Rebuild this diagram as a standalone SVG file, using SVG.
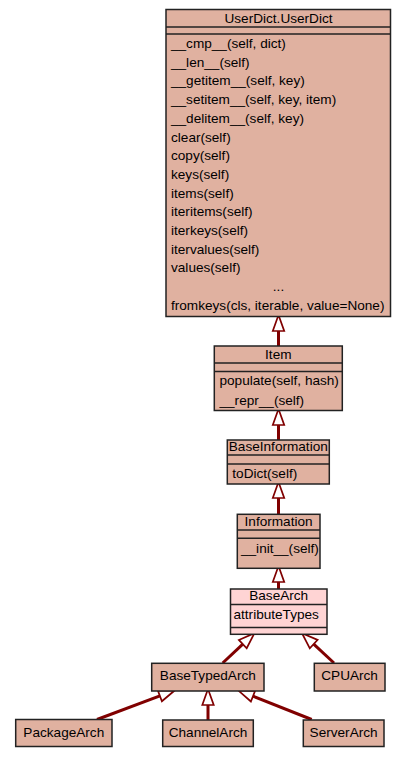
<svg xmlns="http://www.w3.org/2000/svg" width="407" height="757" viewBox="0 0 407 757">
<style>
.box{fill:#e0b1a0;stroke:#222;stroke-width:1.5}
.pink{fill:#ffd4d4;stroke:#222;stroke-width:1.5}
.sep{stroke:#222;stroke-width:1.5}
text{font-family:"Liberation Sans",Arial,sans-serif;font-size:13.6px;fill:#000}
.c{text-anchor:middle}
.e{fill:none;stroke:#800000;stroke-width:3}
</style>
<defs>
<marker id="inh" markerUnits="userSpaceOnUse" markerWidth="20" markerHeight="16" viewBox="-1 -7 17 14" refX="0" refY="0" orient="auto">
<path d="M0,-5 L14,0 L0,5 Z" fill="#fff" stroke="#800000" stroke-width="1.5"/>
</marker>
</defs>
<rect width="407" height="757" fill="#fff"/>
<g id="connectors">
<path class="e" d="M278.5,346 L278.5,331" marker-end="url(#inh)"/>
<path class="e" d="M278.5,440 L278.5,425" marker-end="url(#inh)"/>
<path class="e" d="M278.5,514 L278.5,498" marker-end="url(#inh)"/>
<path class="e" d="M278.5,589 L278.5,582" marker-end="url(#inh)"/>
<path class="e" d="M222.7,663 L242.8,644.1" marker-end="url(#inh)"/>
<path class="e" d="M334,663 L313.7,644.1" marker-end="url(#inh)"/>
<path class="e" d="M97,719.5 L159.9,695.9" marker-end="url(#inh)"/>
<path class="e" d="M208,720 L208,705" marker-end="url(#inh)"/>
<path class="e" d="M311.7,719.5 L253,696.2" marker-end="url(#inh)"/>
</g>
<g id="UserDict">
<rect class="box" x="166" y="9.5" width="224.5" height="307"/>
<line class="sep" x1="166" y1="27" x2="390.5" y2="27"/>
<line class="sep" x1="166" y1="34" x2="390.5" y2="34"/>
<text class="c" x="278.5" y="23">UserDict.UserDict</text>
<text x="171" y="48">__cmp__(self, dict)</text>
<text x="171" y="66.7">__len__(self)</text>
<text x="171" y="85.4">__getitem__(self, key)</text>
<text x="171" y="104.1">__setitem__(self, key, item)</text>
<text x="171" y="122.8">__delitem__(self, key)</text>
<text x="171" y="141.5">clear(self)</text>
<text x="171" y="160.2">copy(self)</text>
<text x="171" y="178.9">keys(self)</text>
<text x="171" y="197.6">items(self)</text>
<text x="171" y="216.3">iteritems(self)</text>
<text x="171" y="235">iterkeys(self)</text>
<text x="171" y="253.7">itervalues(self)</text>
<text x="171" y="272.4">values(self)</text>
<text class="c" x="278.5" y="290.5">...</text>
<text x="171" y="309.8">fromkeys(cls, iterable, value=None)</text>
</g>
<g id="Item">
<rect class="box" x="214.3" y="346" width="128" height="64.5"/>
<line class="sep" x1="214.3" y1="363" x2="342.3" y2="363"/>
<line class="sep" x1="214.3" y1="371.5" x2="342.3" y2="371.5"/>
<text class="c" x="278.3" y="358.5">Item</text>
<text x="219.5" y="384.5">populate(self, hash)</text>
<text x="219.5" y="404.5">__repr__(self)</text>
</g>
<g id="BaseInformation">
<rect class="box" x="227.3" y="440" width="102" height="44"/>
<line class="sep" x1="227.3" y1="455" x2="329.3" y2="455"/>
<line class="sep" x1="227.3" y1="464" x2="329.3" y2="464"/>
<text class="c" x="278.3" y="451.3">BaseInformation</text>
<text x="232.3" y="477.5">toDict(self)</text>
</g>
<g id="Information">
<rect class="box" x="237.3" y="514.3" width="82.7" height="54"/>
<line class="sep" x1="237.3" y1="530" x2="320" y2="530"/>
<line class="sep" x1="237.3" y1="538.3" x2="320" y2="538.3"/>
<text class="c" x="278.6" y="526.3">Information</text>
<text x="241" y="552.5">__init__(self)</text>
</g>
<g id="BaseArch">
<rect class="pink" x="230.5" y="589" width="96.5" height="45.3"/>
<line class="sep" x1="230.5" y1="604.5" x2="327" y2="604.5"/>
<line class="sep" x1="230.5" y1="627.5" x2="327" y2="627.5"/>
<text class="c" x="278.7" y="600.3">BaseArch</text>
<text x="233.5" y="619.3">attributeTypes</text>
</g>
<g id="BaseTypedArch">
<rect class="box" x="151.7" y="663.3" width="112.3" height="27.7"/>
<text class="c" x="207.8" y="680.3">BaseTypedArch</text>
</g>
<g id="CPUArch">
<rect class="box" x="314.3" y="663.3" width="70.7" height="27.7"/>
<text class="c" x="349.6" y="680.3">CPUArch</text>
</g>
<g id="PackageArch">
<rect class="box" x="15.7" y="719.5" width="96.3" height="27"/>
<text class="c" x="63.8" y="737.3">PackageArch</text>
</g>
<g id="ChannelArch">
<rect class="box" x="162.7" y="720" width="90.6" height="26.5"/>
<text class="c" x="208" y="737.3">ChannelArch</text>
</g>
<g id="ServerArch">
<rect class="box" x="303.3" y="720" width="80.7" height="26.5"/>
<text class="c" x="343.6" y="737.3">ServerArch</text>
</g>
</svg>
